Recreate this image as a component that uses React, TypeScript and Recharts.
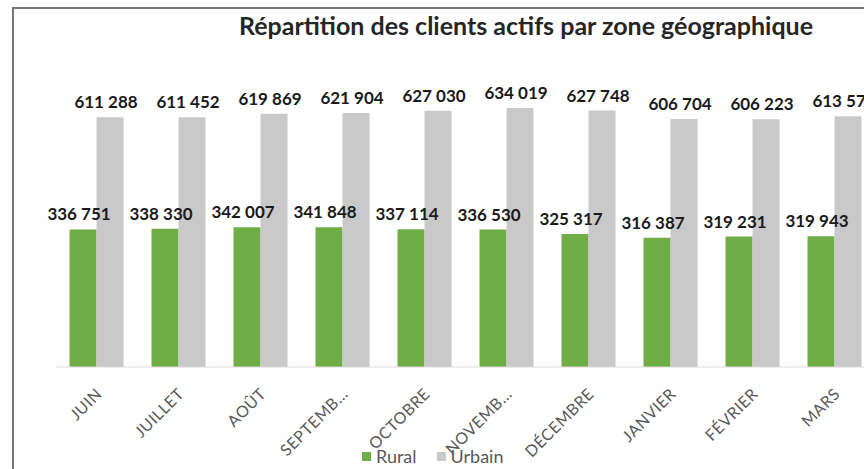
import { BarChart, Bar, XAxis, YAxis, Legend, LabelList } from 'recharts';

const months = ['JUIN', 'JUILLET', 'AOÛT', 'SEPTEMB...', 'OCTOBRE', 'NOVEMB...', 'DÉCEMBRE', 'JANVIER', 'FÉVRIER', 'MARS'];
const rural = [336751, 338330, 342007, 341848, 337114, 336530, 325317, 316387, 319231, 319943];
const urbain = [611288, 611452, 619869, 621904, 627030, 634019, 627748, 606704, 606223, 613570];

const data = months.map((m, i) => ({ month: m, rural: rural[i], urbain: urbain[i] }));

const FONT = 'Lato, "Open Sans", sans-serif';

function fmt(v: number): string {
  return String(v).replace(/\B(?=(\d{3})+(?!\d))/g, ' ');
}

function ValueLabel(props: any) {
  const { x, y, width, value } = props;
  return (
    <text
      x={x + width / 2 - 4}
      y={y - 9}
      textAnchor="middle"
      fill="#1a1a1a"
      fontWeight={700}
      fontSize={17}
      fontFamily={FONT}
    >
      {fmt(value)}
    </text>
  );
}

function MonthTick(props: any) {
  const { x, y, payload } = props;
  return (
    <g transform={`translate(${x + 6},${y + 20})`}>
      <text
        textAnchor="end"
        transform="rotate(-45)"
        fill="#595959"
        fontSize={16}
        fontFamily={FONT}
        letterSpacing={0.5}
      >
        {payload.value}
      </text>
    </g>
  );
}

function LegendContent() {
  const items = [
    { name: 'Rural', color: '#70ad47' },
    { name: 'Urbain', color: '#c9c9c9' },
  ];
  return (
    <div style={{ display: 'flex', gap: 20, fontFamily: FONT, fontSize: 18, color: '#595959', lineHeight: '20px' }}>
      {items.map(it => (
        <div key={it.name} style={{ display: 'flex', alignItems: 'center', gap: 5 }}>
          <span style={{ width: 9, height: 9, background: it.color, display: 'inline-block' }} />
          <span>{it.name}</span>
        </div>
      ))}
    </div>
  );
}

export default function App() {
  return (
    <div style={{ position: 'fixed', left: 0, top: 0, width: 864, height: 469, overflow: 'hidden', background: '#fff' }}>
      <div
        style={{
          position: 'absolute',
          left: 12,
          top: 7,
          width: 1000,
          height: 600,
          borderLeft: '2px solid #767676',
          borderTop: '2px solid #767676',
        }}
      />
      <div style={{ position: 'absolute', left: 0, top: 0 }}>
        <BarChart
          width={1040}
          height={469}
          data={data}
          margin={{ top: 81, right: 164, left: 56, bottom: 0 }}
          barCategoryGap="16.5%"
          barGap={0}
        >
          <text
            x={526}
            y={35}
            textAnchor="middle"
            fontFamily={FONT}
            fontWeight={700}
            fontSize={25}
            fill="#262626"
          >
            Répartition des clients actifs par zone géographique
          </text>
          <XAxis
            dataKey="month"
            interval={0}
            tickLine={false}
            axisLine={{ stroke: '#d9d9d9' }}
            tick={<MonthTick />}
            height={78}
          />
          <YAxis hide domain={[0, 700000]} />
          <Legend
            verticalAlign="bottom"
            height={24}
            content={<LegendContent />}
            wrapperStyle={{ left: 362, width: 220, bottom: -1 }}
          />
          <Bar dataKey="rural" name="Rural" fill="#70ad47" isAnimationActive={false}>
            <LabelList dataKey="rural" content={<ValueLabel />} />
          </Bar>
          <Bar dataKey="urbain" name="Urbain" fill="#c9c9c9" isAnimationActive={false}>
            <LabelList dataKey="urbain" content={<ValueLabel />} />
          </Bar>
        </BarChart>
      </div>
    </div>
  );
}
